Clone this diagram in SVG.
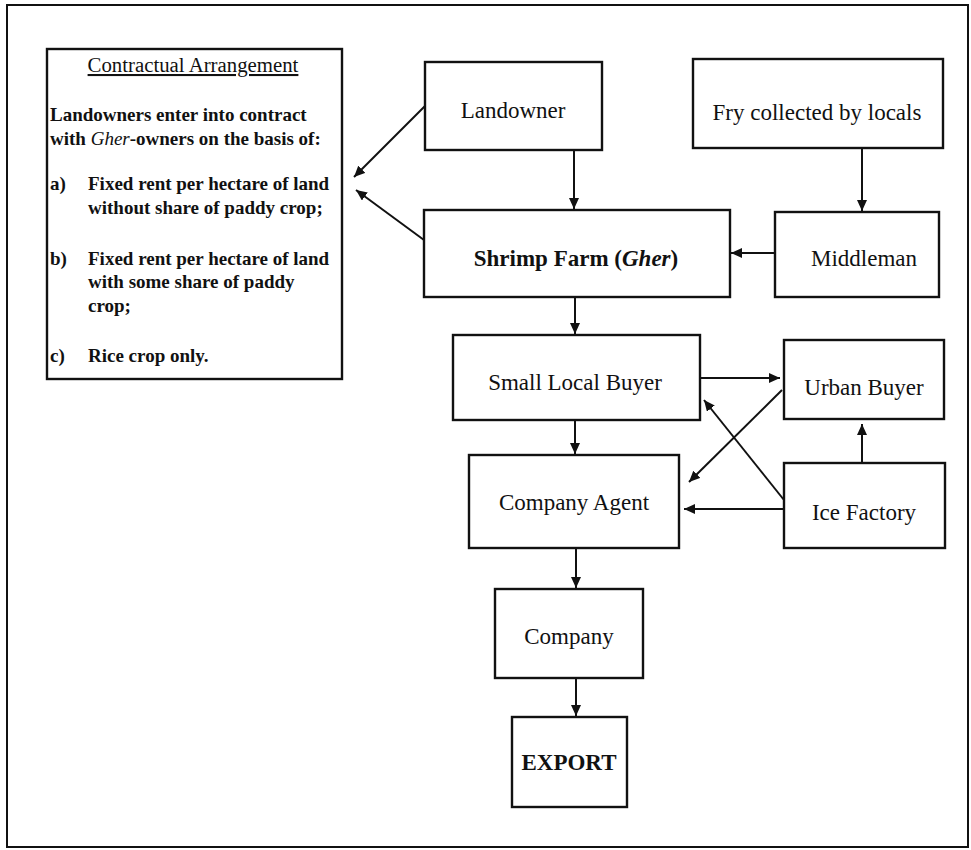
<svg xmlns="http://www.w3.org/2000/svg" width="971" height="850" viewBox="0 0 971 850">
<style>
.box{fill:#fff;stroke:#111;stroke-width:2.4}
.frame{fill:#fff;stroke:#111;stroke-width:2}
.lbl{font-family:"Liberation Serif","Times New Roman",serif;font-size:23px;fill:#111;text-anchor:middle}
.b{font-weight:bold}
.ct{font-family:"Liberation Serif","Times New Roman",serif;font-size:19px;font-weight:bold;fill:#111}
.cn{stroke:#111;stroke-width:2;fill:none;marker-end:url(#ah)}
</style>
<defs>
<marker id="ah" markerUnits="userSpaceOnUse" markerWidth="12" markerHeight="10" refX="11" refY="5" orient="auto">
<path d="M0,0 L11,5 L0,10 z" fill="#111"/>
</marker>
</defs>
<rect class="frame" x="7" y="5" width="961" height="842"/>
<g id="contract">
<rect class="box" x="47" y="49" width="295" height="330"/>
<text x="193" y="72" text-anchor="middle" font-family="Liberation Serif, Times New Roman, serif" font-size="20.8" fill="#111" text-decoration="underline">Contractual Arrangement</text>
<text class="ct" x="50" y="121">Landowners enter into contract</text>
<text class="ct" x="50" y="145">with <tspan font-style="italic" font-weight="normal">Gher</tspan>-owners on the basis of:</text>
<text class="ct" x="50" y="190">a)</text>
<text class="ct" x="88" y="190">Fixed rent per hectare of land</text>
<text class="ct" x="88" y="214">without share of paddy crop;</text>
<text class="ct" x="50" y="265">b)</text>
<text class="ct" x="88" y="265">Fixed rent per hectare of land</text>
<text class="ct" x="88" y="288">with some share of paddy</text>
<text class="ct" x="88" y="312">crop;</text>
<text class="ct" x="50" y="362">c)</text>
<text class="ct" x="88" y="362">Rice crop only.</text>
</g>
<g id="landowner">
<rect class="box" x="425" y="62" width="177" height="88"/>
<text class="lbl" x="513" y="118">Landowner</text>
</g>
<g id="fry">
<rect class="box" x="693" y="59" width="250" height="89"/>
<text class="lbl" x="817" y="120">Fry collected by locals</text>
</g>
<g id="shrimp">
<rect class="box" x="424" y="210" width="306" height="87"/>
<text class="lbl b" x="576" y="266">Shrimp Farm (<tspan font-style="italic">Gher</tspan>)</text>
</g>
<g id="middleman">
<rect class="box" x="775" y="212" width="164" height="85"/>
<text class="lbl" x="864" y="266">Middleman</text>
</g>
<g id="slb">
<rect class="box" x="453" y="335" width="247" height="85"/>
<text class="lbl" x="575" y="390">Small Local Buyer</text>
</g>
<g id="urban">
<rect class="box" x="784" y="340" width="160" height="79"/>
<text class="lbl" x="864" y="395">Urban Buyer</text>
</g>
<g id="agent">
<rect class="box" x="469" y="455" width="210" height="93"/>
<text class="lbl" x="574" y="510">Company Agent</text>
</g>
<g id="ice">
<rect class="box" x="784" y="463" width="161" height="85"/>
<text class="lbl" x="864" y="520">Ice Factory</text>
</g>
<g id="company">
<rect class="box" x="495" y="589" width="148" height="89"/>
<text class="lbl" x="569" y="644">Company</text>
</g>
<g id="export">
<rect class="box" x="512" y="717" width="115" height="90"/>
<text class="lbl b" x="569" y="770">EXPORT</text>
</g>
<g id="connectors">
<line class="cn" x1="425" y1="106" x2="354" y2="177"/>
<line class="cn" x1="424" y1="240" x2="356" y2="190"/>
<line class="cn" x1="574" y1="150" x2="574" y2="209"/>
<line class="cn" x1="862" y1="148" x2="862" y2="211"/>
<line class="cn" x1="775" y1="253" x2="731" y2="253"/>
<line class="cn" x1="575" y1="297" x2="575" y2="334"/>
<line class="cn" x1="700" y1="378" x2="780" y2="378"/>
<line class="cn" x1="782" y1="390" x2="689" y2="482"/>
<line class="cn" x1="784" y1="500" x2="704" y2="400"/>
<line class="cn" x1="784" y1="509" x2="684" y2="509"/>
<line class="cn" x1="862" y1="463" x2="862" y2="424"/>
<line class="cn" x1="575" y1="420" x2="575" y2="454"/>
<line class="cn" x1="576" y1="548" x2="576" y2="588"/>
<line class="cn" x1="576" y1="678" x2="576" y2="716"/>
</g>
</svg>
